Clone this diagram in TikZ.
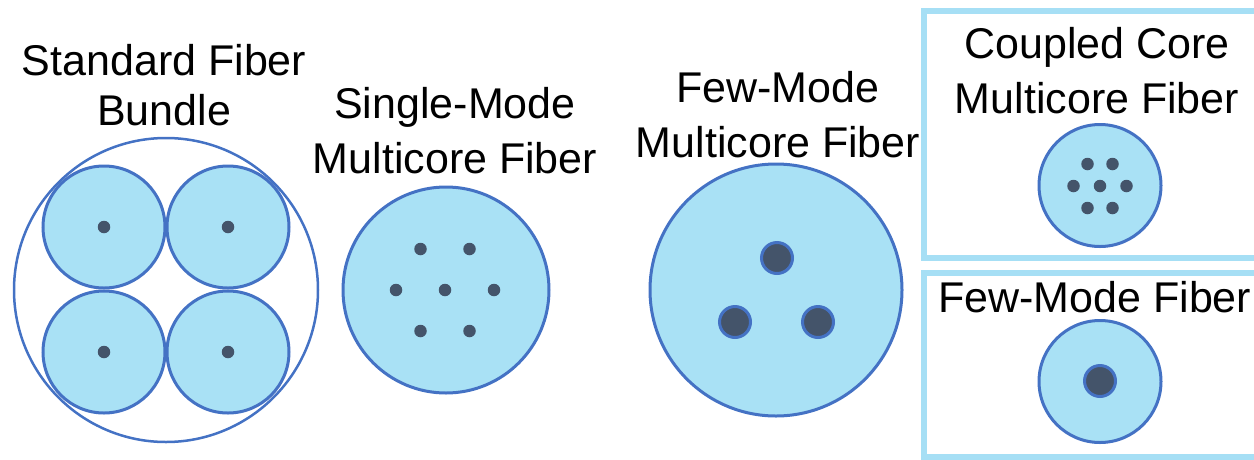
\documentclass[tikz,border=0pt]{standalone}
\usepackage{fontspec}
\setmainfont{Liberation Sans}
\definecolor{fibblue}{HTML}{4472C4}
\definecolor{cladfill}{HTML}{A9E1F5}
\definecolor{coredark}{HTML}{44546A}
\definecolor{boxblue}{HTML}{A6DFF5}
\tikzset{
  clad/.style={circle, draw=fibblue, fill=cladfill, line width=3pt, minimum size=#1, inner sep=0pt},
  core/.style={circle, fill=coredark, minimum size=12.5pt, inner sep=0pt},
  bigcore/.style={circle, fill=coredark, draw=fibblue, line width=3pt, minimum size=31pt, inner sep=0pt},
  label/.style={anchor=base, align=center, inner sep=0pt, font=\fontsize{43}{#1}\selectfont},
  label/.default=55,
  panel/.style={draw=boxblue, line width=6pt}
}
\begin{document}
\begin{tikzpicture}[x=1pt, y=-1pt]
\useasboundingbox (0,0) rectangle (1254,459);
\clip (0,0) rectangle (1254,459);

% standard fiber bundle: four single-core fibers in a jacket
\node[circle, draw=fibblue, line width=2.5pt, minimum size=304pt, inner sep=0pt] (jacket) at (166,290) {};
\foreach \n/\x/\y in {a/104/227, b/228/227, c/104/352, d/228/352} {
  \node[clad=122pt] (sf\n) at (\x,\y) {};
  \node[core] (sfc\n) at (sf\n.center) {};
}
% the base anchor sits on the last line of a two-line label
\node[label=50] (tbundle) at (164,125.5) {Standard Fiber\\Bundle};

% single-mode multicore fiber: seven cores on a hexagonal grid
\node[clad=206pt] (smf) at (446,290) {};
\node[core] (smc0) at (445,290) {};
\foreach \n/\dx/\dy in {1/-24.5/-41, 2/24.5/-41, 3/-49/0, 4/49/0, 5/-24.5/41, 6/24.5/41} {
  \node[core] (smc\n) at ([shift={(\dx,\dy)}]smc0.center) {};
}
\node[label] (tsmf) at (455,173.5) {Single-Mode\\Multicore Fiber};

% few-mode multicore fiber: three large cores
\node[clad=252pt] (fmf) at (776,290) {};
\node[bigcore] (fmc1) at (777,258) {};
\node[bigcore] (fmc2) at (735,322) {};
\node[bigcore] (fmc3) at (818,322) {};
\node[label] (tfmf) at (778,157) {Few-Mode\\Multicore Fiber};

% coupled-core multicore fiber panel
\draw[panel] (924,10.5) rectangle (1270,258);
\node[clad=122pt] (ccf) at (1100,185.5) {};
\node[core] (ccc0) at (1100,186) {};
\foreach \n/\dx/\dy in {1/-12.5/-22, 2/12.5/-22, 3/-26.5/0, 4/26.5/0, 5/-12.5/22, 6/12.5/22} {
  \node[core] (ccc\n) at ([shift={(\dx,\dy)}]ccc0.center) {};
}
\node[label] (tccf) at (1097,113) {Coupled Core\\Multicore Fiber};

% few-mode fiber panel
\draw[panel] (924,272.5) rectangle (1270,456.5);
\node[clad=122pt] (smfm) at (1100,381.5) {};
\node[bigcore] (smfmc) at (1100,381) {};
\node[anchor=base west, inner sep=0pt, font=\fontsize{43}{55}\selectfont] (tfm) at (938,312) {Few-Mode Fiber};
\end{tikzpicture}
\end{document}
